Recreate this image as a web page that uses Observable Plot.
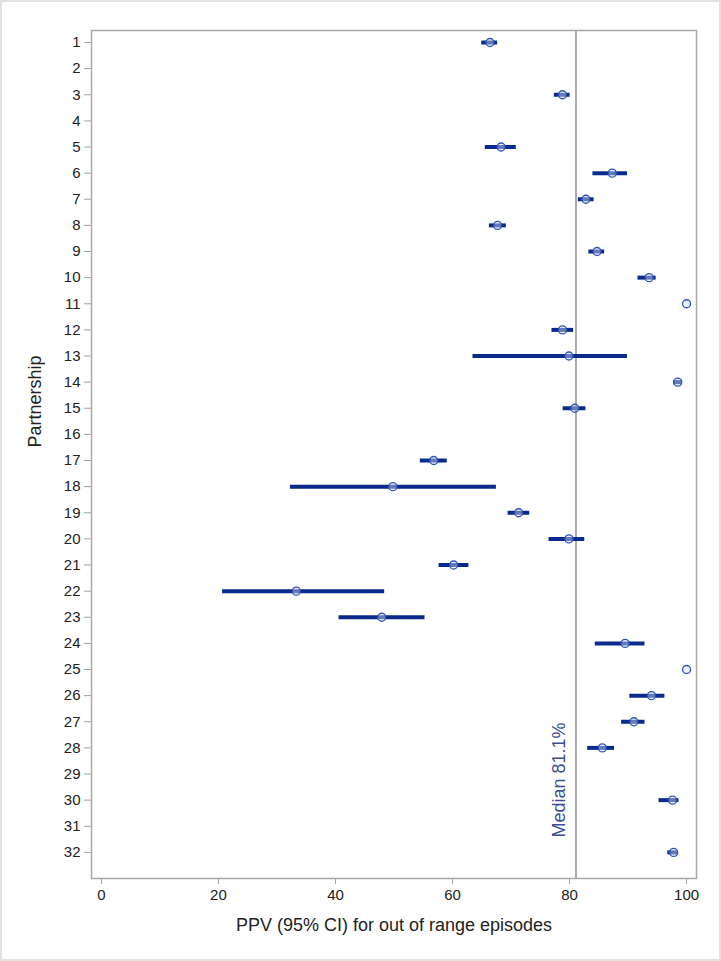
<!DOCTYPE html>
<html>
<head>
<meta charset="utf-8">
<script src="https://cdn.jsdelivr.net/npm/d3@7"></script>
<script src="https://cdn.jsdelivr.net/npm/@observablehq/plot@0.6"></script>
<style>
  html, body { margin: 0; padding: 0; background: #fff; }
  #chart { width: 721px; height: 961px; box-sizing: border-box; border: 2px solid #e2e2e2; overflow: hidden; }
  #chart svg { display: block; }
</style>
</head>
<body>
<div id="chart"></div>
<script>
const partnerships = [1,3,5,6,7,8,9,10,11,12,13,14,15,17,18,19,20,21,22,23,24,25,26,27,28,30,32];
const ppv   = [66.4,78.8,68.3,87.3,82.8,67.7,84.7,93.6,100,78.8,79.9,98.5,80.9,56.8,49.8,71.3,79.9,60.2,33.3,47.9,89.5,100,94.0,91.0,85.6,97.6,97.8];
const lower = [65.0,77.4,65.6,84.0,81.5,66.3,83.3,91.7,100,77.0,63.5,97.8,78.9,54.5,32.3,69.5,76.5,57.7,20.7,40.6,84.4,100,90.3,88.9,83.1,95.3,96.8];
const upper = [67.7,80.1,70.9,89.9,84.2,69.2,86.0,94.8,100,80.7,89.9,99.2,82.8,59.1,67.5,73.2,82.6,62.8,48.4,55.3,92.9,100,96.3,92.9,87.7,98.7,98.5];
const median = 81.1;
const yTicks = d3.range(1, 33);
const xTicks = [0, 20, 40, 60, 80, 100];
const xLabel = "PPV (95% CI) for out of range episodes";
const yLabel = "Partnership";
const medianLabel = "Median 81.1%";

const data = partnerships.map((p, i) => ({p, ppv: ppv[i], lo: lower[i], hi: upper[i]}));

const chart = Plot.plot({
  width: 717,
  height: 957,
  marginLeft: 89,
  marginRight: 23,
  marginTop: 28,
  marginBottom: 81,
  style: {fontFamily: "'Liberation Sans', Arial, sans-serif", fontSize: "15px", color: "#222", background: "#fff"},
  x: {domain: [-1.7, 101.7]},
  y: {domain: [0.54, 33], reverse: true},
  marks: [
    Plot.axisX({ticks: xTicks, tickSize: 6, tickPadding: 5, stroke: "#a0a0a0", fill: "#222", fontSize: 15, label: null}),
    Plot.axisY({ticks: yTicks, tickSize: 7, tickPadding: 4, stroke: "#a0a0a0", fill: "#222", fontSize: 15, label: null, tickFormat: d => String(d)}),
    Plot.ruleX([median], {stroke: "#ababab", strokeWidth: 2}),
    Plot.frame({stroke: "#a8a8a8", strokeWidth: 1.5}),
    Plot.text([medianLabel], {x: [median], frameAnchor: "bottom", rotate: -90, textAnchor: "start", lineAnchor: "middle", dx: -17, dy: -41, fill: "#3d4c95", fontSize: 18}),
    Plot.ruleY(data, {y: "p", x1: "lo", x2: "hi", stroke: "#0a2a8c", strokeWidth: 4}),
    Plot.dot(data, {x: "ppv", y: "p", r: 4, stroke: "#2f55b3", fill: "#d4dcf2", fillOpacity: 0.45, strokeWidth: 1.3}),
    Plot.text([xLabel], {frameAnchor: "bottom", lineAnchor: "middle", dy: 47, fontSize: 18, fill: "#222"}),
    Plot.text([yLabel], {frameAnchor: "left", rotate: -90, lineAnchor: "middle", dx: -56, dy: -7, fontSize: 18, fill: "#222"})
  ]
});
document.getElementById("chart").appendChild(chart);
</script>
</body>
</html>
